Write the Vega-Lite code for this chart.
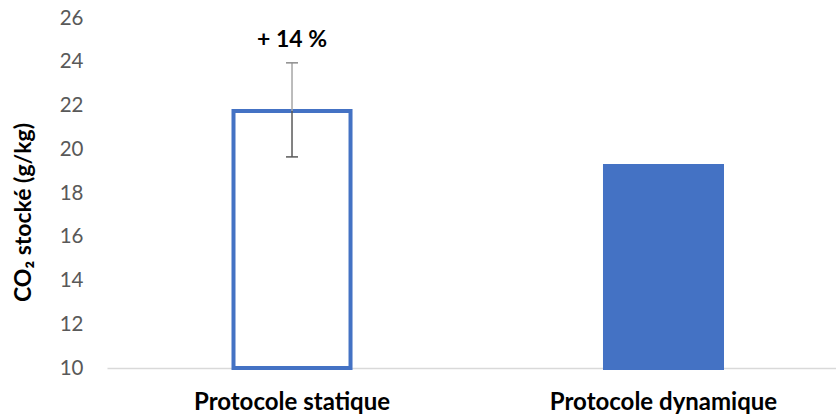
{
  "$schema": "https://vega.github.io/schema/vega-lite/v6.json",
  "width": 729,
  "height": 350,
  "autosize": "none",
  "padding": {"left": 107, "top": 18, "right": 0, "bottom": 49},
  "background": "white",
  "config": {
    "view": {"stroke": null},
    "font": "Lato"
  },
  "data": {
    "values": [
      {"protocole": "Protocole statique", "valeur": 21.75, "bas": 19.65, "haut": 23.95, "annotation": "+ 14 %"},
      {"protocole": "Protocole dynamique", "valeur": 19.23}
    ]
  },
  "encoding": {
    "x": {
      "field": "protocole",
      "type": "nominal",
      "sort": ["Protocole statique", "Protocole dynamique"],
      "scale": {"paddingInner": 0.685, "paddingOuter": 0.3237, "align": 0.526},
      "axis": {
        "title": null,
        "labelAngle": 0,
        "labelFont": "Lato",
        "labelFontSize": 24,
        "labelFontWeight": "bold",
        "labelColor": "#000000",
        "labelPadding": 22,
        "labelBaseline": "top",
        "labelLimit": 0,
        "ticks": false,
        "domainColor": "#d9d9d9",
        "domainWidth": 1.3,
        "grid": false
      }
    }
  },
  "layer": [
    {
      "mark": {"type": "bar", "strokeWidth": 4, "strokeJoin": "miter"},
      "encoding": {
        "y": {
          "field": "valeur",
          "type": "quantitative",
          "scale": {"domain": [10, 26], "zero": false, "nice": false},
          "axis": {
            "title": "CO₂ stocké (g/kg)",
            "values": [10, 12, 14, 16, 18, 20, 22, 24, 26],
            "grid": false,
            "domain": false,
            "ticks": false,
            "labelFont": "Lato",
            "labelFontSize": 20.5,
            "labelColor": "#595959",
            "labelPadding": 24,
            "titleFont": "Lato",
            "titleFontSize": 23,
            "titleFontWeight": "bold",
            "titleColor": "#000000",
            "titleAngle": 270,
            "titleX": -84,
            "titleY": 194,
            "titleAlign": "center",
            "titleBaseline": "middle"
          }
        },
        "y2": {"datum": 10},
        "fill": {
          "field": "protocole",
          "type": "nominal",
          "scale": {"domain": ["Protocole statique", "Protocole dynamique"], "range": ["#ffffff", "#4472c4"]},
          "legend": null
        },
        "stroke": {
          "field": "protocole",
          "type": "nominal",
          "scale": {"domain": ["Protocole statique", "Protocole dynamique"], "range": ["#4472c4", "#4472c4"]},
          "legend": null
        }
      }
    },
    {
      "transform": [{"filter": "isValid(datum.haut)"}],
      "mark": {"type": "rule", "color": "#a6a6a6", "strokeWidth": 1.5},
      "encoding": {
        "y": {"field": "valeur", "type": "quantitative"},
        "y2": {"field": "haut"}
      }
    },
    {
      "transform": [{"filter": "isValid(datum.bas)"}],
      "mark": {"type": "rule", "color": "#595959", "strokeWidth": 1.5},
      "encoding": {
        "y": {"field": "bas", "type": "quantitative"},
        "y2": {"field": "valeur"}
      }
    },
    {
      "transform": [{"filter": "isValid(datum.haut)"}],
      "mark": {"type": "tick", "color": "#8c8c8c", "size": 12, "thickness": 1.5, "opacity": 1},
      "encoding": {
        "y": {"field": "haut", "type": "quantitative"}
      }
    },
    {
      "transform": [{"filter": "isValid(datum.bas)"}],
      "mark": {"type": "tick", "color": "#595959", "size": 12, "thickness": 1.5, "opacity": 1},
      "encoding": {
        "y": {"field": "bas", "type": "quantitative"}
      }
    },
    {
      "transform": [{"filter": "isValid(datum.annotation)"}],
      "mark": {"type": "text", "font": "Lato", "fontSize": 23, "fontWeight": "bold", "color": "#000000", "baseline": "alphabetic", "dy": -16},
      "encoding": {
        "y": {"field": "haut", "type": "quantitative"},
        "text": {"field": "annotation"}
      }
    }
  ]
}
